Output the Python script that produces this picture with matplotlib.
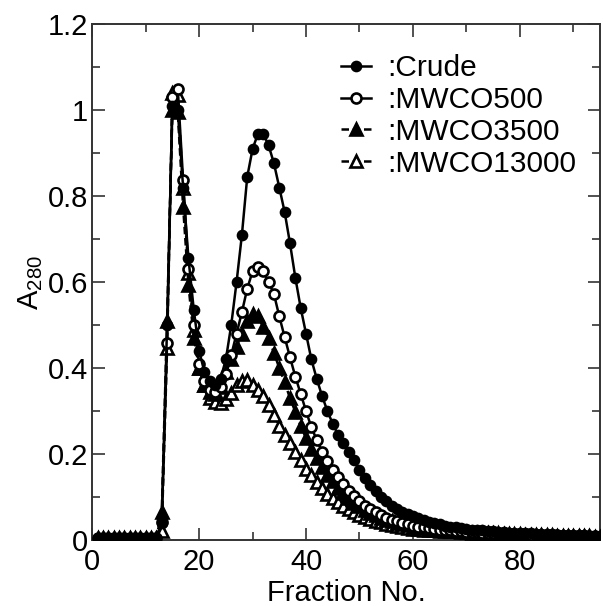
import numpy as np
import matplotlib
matplotlib.use('Agg')
import matplotlib.pyplot as plt
from matplotlib.ticker import MultipleLocator, FormatStrFormatter

plt.rcParams['font.family'] = ['Liberation Sans', 'DejaVu Sans']
plt.rcParams['mathtext.fontset'] = 'custom'
plt.rcParams['mathtext.rm'] = 'Liberation Sans'

# fraction numbers 1..95
fraction = list(range(1, 96))

base = [0.005] * 12

crude = base + [
    0.04, 0.50, 1.01, 1.00, 0.82, 0.655, 0.535, 0.44, 0.39, 0.37,      # 13-22
    0.36, 0.375, 0.42, 0.50, 0.60, 0.71, 0.845, 0.91, 0.945, 0.945,    # 23-32
    0.918, 0.876, 0.82, 0.763, 0.69, 0.61, 0.54, 0.48, 0.42, 0.375,    # 33-42
    0.335, 0.30, 0.27, 0.245, 0.225, 0.205, 0.185, 0.163, 0.145, 0.128,  # 43-52
    0.113, 0.10, 0.09, 0.08, 0.072, 0.065, 0.06, 0.055, 0.05, 0.046,   # 53-62
    0.042, 0.039, 0.036, 0.033, 0.031, 0.029, 0.027, 0.025, 0.024, 0.023,  # 63-72
    0.022, 0.021, 0.020, 0.019, 0.018, 0.017, 0.017, 0.016, 0.015, 0.015,  # 73-82
    0.014, 0.014, 0.013, 0.013, 0.012, 0.012, 0.012, 0.011, 0.011, 0.011,  # 83-92
    0.010, 0.010, 0.010]

mwco500 = base + [
    0.042, 0.458, 1.03, 1.05, 0.837, 0.63, 0.50, 0.41, 0.37, 0.35,
    0.345, 0.355, 0.385, 0.43, 0.48, 0.53, 0.585, 0.625, 0.635, 0.625,
    0.60, 0.572, 0.52, 0.472, 0.425, 0.38, 0.34, 0.30, 0.262, 0.233,
    0.205, 0.183, 0.163, 0.146, 0.13, 0.115, 0.102, 0.09, 0.08, 0.072,
    0.064, 0.058, 0.052, 0.047, 0.043, 0.039, 0.036, 0.033, 0.031, 0.029,
    0.027, 0.025, 0.024, 0.023, 0.022, 0.021, 0.020, 0.019, 0.018, 0.018,
    0.017, 0.016, 0.016, 0.015, 0.015, 0.014, 0.014, 0.013, 0.013, 0.012,
    0.012, 0.012, 0.011, 0.011, 0.011, 0.010, 0.010, 0.010, 0.009, 0.009,
    0.009, 0.009, 0.008]

mwco3500 = base + [
    0.065, 0.51, 1.00, 0.995, 0.775, 0.593, 0.47, 0.40, 0.36, 0.345,
    0.34, 0.355, 0.39, 0.42, 0.45, 0.48, 0.51, 0.525, 0.52, 0.495,
    0.47, 0.435, 0.40, 0.367, 0.33, 0.298, 0.265, 0.237, 0.212, 0.19,
    0.17, 0.152, 0.136, 0.122, 0.109, 0.097, 0.087, 0.078, 0.07, 0.063,
    0.057, 0.052, 0.047, 0.043, 0.040, 0.037, 0.034, 0.031, 0.029, 0.027,
    0.025, 0.024, 0.023, 0.022, 0.021, 0.020, 0.019, 0.018, 0.017, 0.017,
    0.016, 0.016, 0.015, 0.015, 0.014, 0.014, 0.013, 0.013, 0.012, 0.012,
    0.012, 0.011, 0.011, 0.011, 0.010, 0.010, 0.010, 0.009, 0.009, 0.009,
    0.009, 0.008, 0.008]

mwco13000 = base + [
    0.02, 0.446, 1.04, 1.035, 0.82, 0.62, 0.488, 0.40, 0.36, 0.33,
    0.32, 0.318, 0.328, 0.343, 0.36, 0.37, 0.372, 0.36, 0.35, 0.335,
    0.315, 0.29, 0.265, 0.245, 0.225, 0.205, 0.185, 0.165, 0.15, 0.135,
    0.12, 0.108, 0.097, 0.088, 0.08, 0.072, 0.065, 0.059, 0.054, 0.049,
    0.045, 0.041, 0.038, 0.035, 0.032, 0.030, 0.028, 0.026, 0.025, 0.024,
    0.023, 0.022, 0.021, 0.020, 0.019, 0.018, 0.018, 0.017, 0.016, 0.016,
    0.015, 0.015, 0.014, 0.014, 0.013, 0.013, 0.012, 0.012, 0.012, 0.011,
    0.011, 0.011, 0.010, 0.010, 0.010, 0.010, 0.009, 0.009, 0.009, 0.009,
    0.009, 0.008, 0.008]

fig = plt.figure(figsize=(6.03, 6.06), dpi=100)
ax = fig.add_axes([0.153, 0.109, 0.842, 0.851])

lw = 1.8
mew = 1.9
ax.plot(fraction, crude, '-', color='black', lw=lw, marker='o', ms=6.5,
        mfc='black', mec='black', mew=mew, label=':Crude', zorder=5)
ax.plot(fraction, mwco500, '-', color='black', lw=lw, marker='o', ms=7.2,
        mfc='white', mec='black', mew=mew, label=':MWCO500', zorder=4)
ax.plot(fraction, mwco3500, '--', color='black', lw=lw, marker='^', ms=8,
        mfc='black', mec='black', mew=mew, dashes=(3, 1.5), label=':MWCO3500', zorder=3)
ax.plot(fraction, mwco13000, '--', color='black', lw=lw, marker='^', ms=9,
        mfc='white', mec='black', mew=mew, dashes=(3, 1.5), label=':MWCO13000', zorder=2)

ax.set_xlim(0, 95)
ax.set_ylim(0, 1.2)
ax.xaxis.set_major_locator(MultipleLocator(20))
ax.xaxis.set_minor_locator(MultipleLocator(10))
ax.yaxis.set_major_locator(MultipleLocator(0.2))
ax.yaxis.set_minor_locator(MultipleLocator(0.1))
ax.yaxis.set_major_formatter(FormatStrFormatter('%g'))

ax.tick_params(which='both', direction='in', top=True, right=True,
               labelsize=21, width=1.2, color='#333333')
ax.tick_params(which='major', length=9, pad=3)
ax.tick_params(axis='x', which='major', pad=6)
ax.tick_params(which='minor', length=6)
for sp in ax.spines.values():
    sp.set_linewidth(1.4)
    sp.set_color('#333333')

ax.set_xlabel('Fraction No.', fontsize=21, labelpad=2)
ax.set_ylabel(r'A$_{\mathregular{280}}$', fontsize=21, labelpad=2)

ax.legend(loc='upper left', bbox_to_anchor=(0.49, 0.942), frameon=False,
          fontsize=21.5, handlelength=1.0, handletextpad=0.55, labelspacing=0.13,
          borderaxespad=0, borderpad=0)

fig.savefig('out.png', dpi=100)
